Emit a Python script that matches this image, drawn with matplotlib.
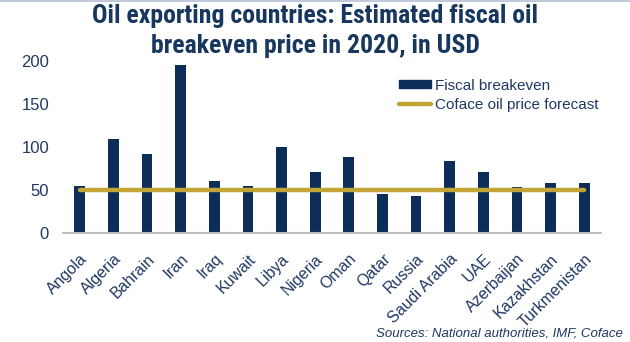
import matplotlib
matplotlib.use("Agg")
import matplotlib.pyplot as plt
from matplotlib.lines import Line2D
import logging

logging.getLogger("matplotlib.font_manager").setLevel(logging.ERROR)

countries = ["Angola", "Algeria", "Bahrain", "Iran", "Iraq", "Kuwait", "Libya",
             "Nigeria", "Oman", "Qatar", "Russia", "Saudi Arabia", "UAE",
             "Azerbaijan", "Kazakhstan", "Turkmenistan"]
breakeven = [55, 109, 92, 195, 61, 55, 100, 71, 88, 45, 43, 84, 71, 54, 58, 58]
forecast = [50] * len(countries)
yticks = [0, 50, 100, 150, 200]

NAVY = "#0b2d57"
GOLD = "#c2a437"
TEXT = "#1f3864"

plt.rcParams["font.family"] = ["Liberation Sans", "DejaVu Sans"]

fig = plt.figure(figsize=(6.3, 3.42), dpi=100)
ax = fig.add_axes([0.1, 0.318, 0.854, 0.504])

x = list(range(len(countries)))
ax.bar(x, breakeven, width=0.32, color=NAVY, zorder=2, label="Fiscal breakeven")
ax.plot(x, forecast, color=GOLD, lw=3.2, solid_capstyle="round", zorder=3,
        label="Coface oil price forecast")

ax.set_xlim(-0.5, len(countries) - 0.5)
ax.set_ylim(0, 200)
ax.set_yticks(yticks)
ax.set_xticks(x)
ax.set_xticklabels(countries, rotation=45, ha="right", rotation_mode="anchor",
                   fontsize=11.5, color=TEXT)
ax.tick_params(axis="y", length=0, labelsize=12, labelcolor=TEXT, pad=10)
ax.tick_params(axis="x", length=0, pad=13)
for s in ["top", "right", "left"]:
    ax.spines[s].set_visible(False)
ax.spines["bottom"].set_color("#c0c0c0")
ax.spines["bottom"].set_linewidth(1.5)

handles = [plt.Rectangle((0, 0), 1, 1, color=NAVY),
           Line2D([0], [0], color=GOLD, lw=3.2, solid_capstyle="round")]
leg = fig.legend(handles, ["Fiscal breakeven", "Coface oil price forecast"],
                 loc="upper left", bbox_to_anchor=(0.633, 0.77), frameon=False,
                 fontsize=11, handlelength=2.1, handleheight=0.45,
                 handletextpad=0.3, labelspacing=0.35, borderaxespad=0,
                 borderpad=0)
for t in leg.get_texts():
    t.set_color(TEXT)

fig.text(0.5, 0.988, "Oil exporting countries: Estimated fiscal oil\nbreakeven price in 2020, in USD",
         ha="center", va="top", fontsize=18.5, fontweight="bold", color="#17375e",
         family=["Liberation Sans Narrow", "Roboto Condensed", "Archivo Narrow",
                 "Liberation Sans"], linespacing=1.3)
fig.text(0.988, 0.006, "Sources: National authorities, IMF, Coface", ha="right",
         va="bottom", fontsize=9.5, style="italic", color=TEXT)

fig.add_artist(Line2D([0, 1], [0.998, 0.998], color="#b4c0d4", lw=1.2,
                      transform=fig.transFigure))

fig.savefig("out.png", dpi=100)
